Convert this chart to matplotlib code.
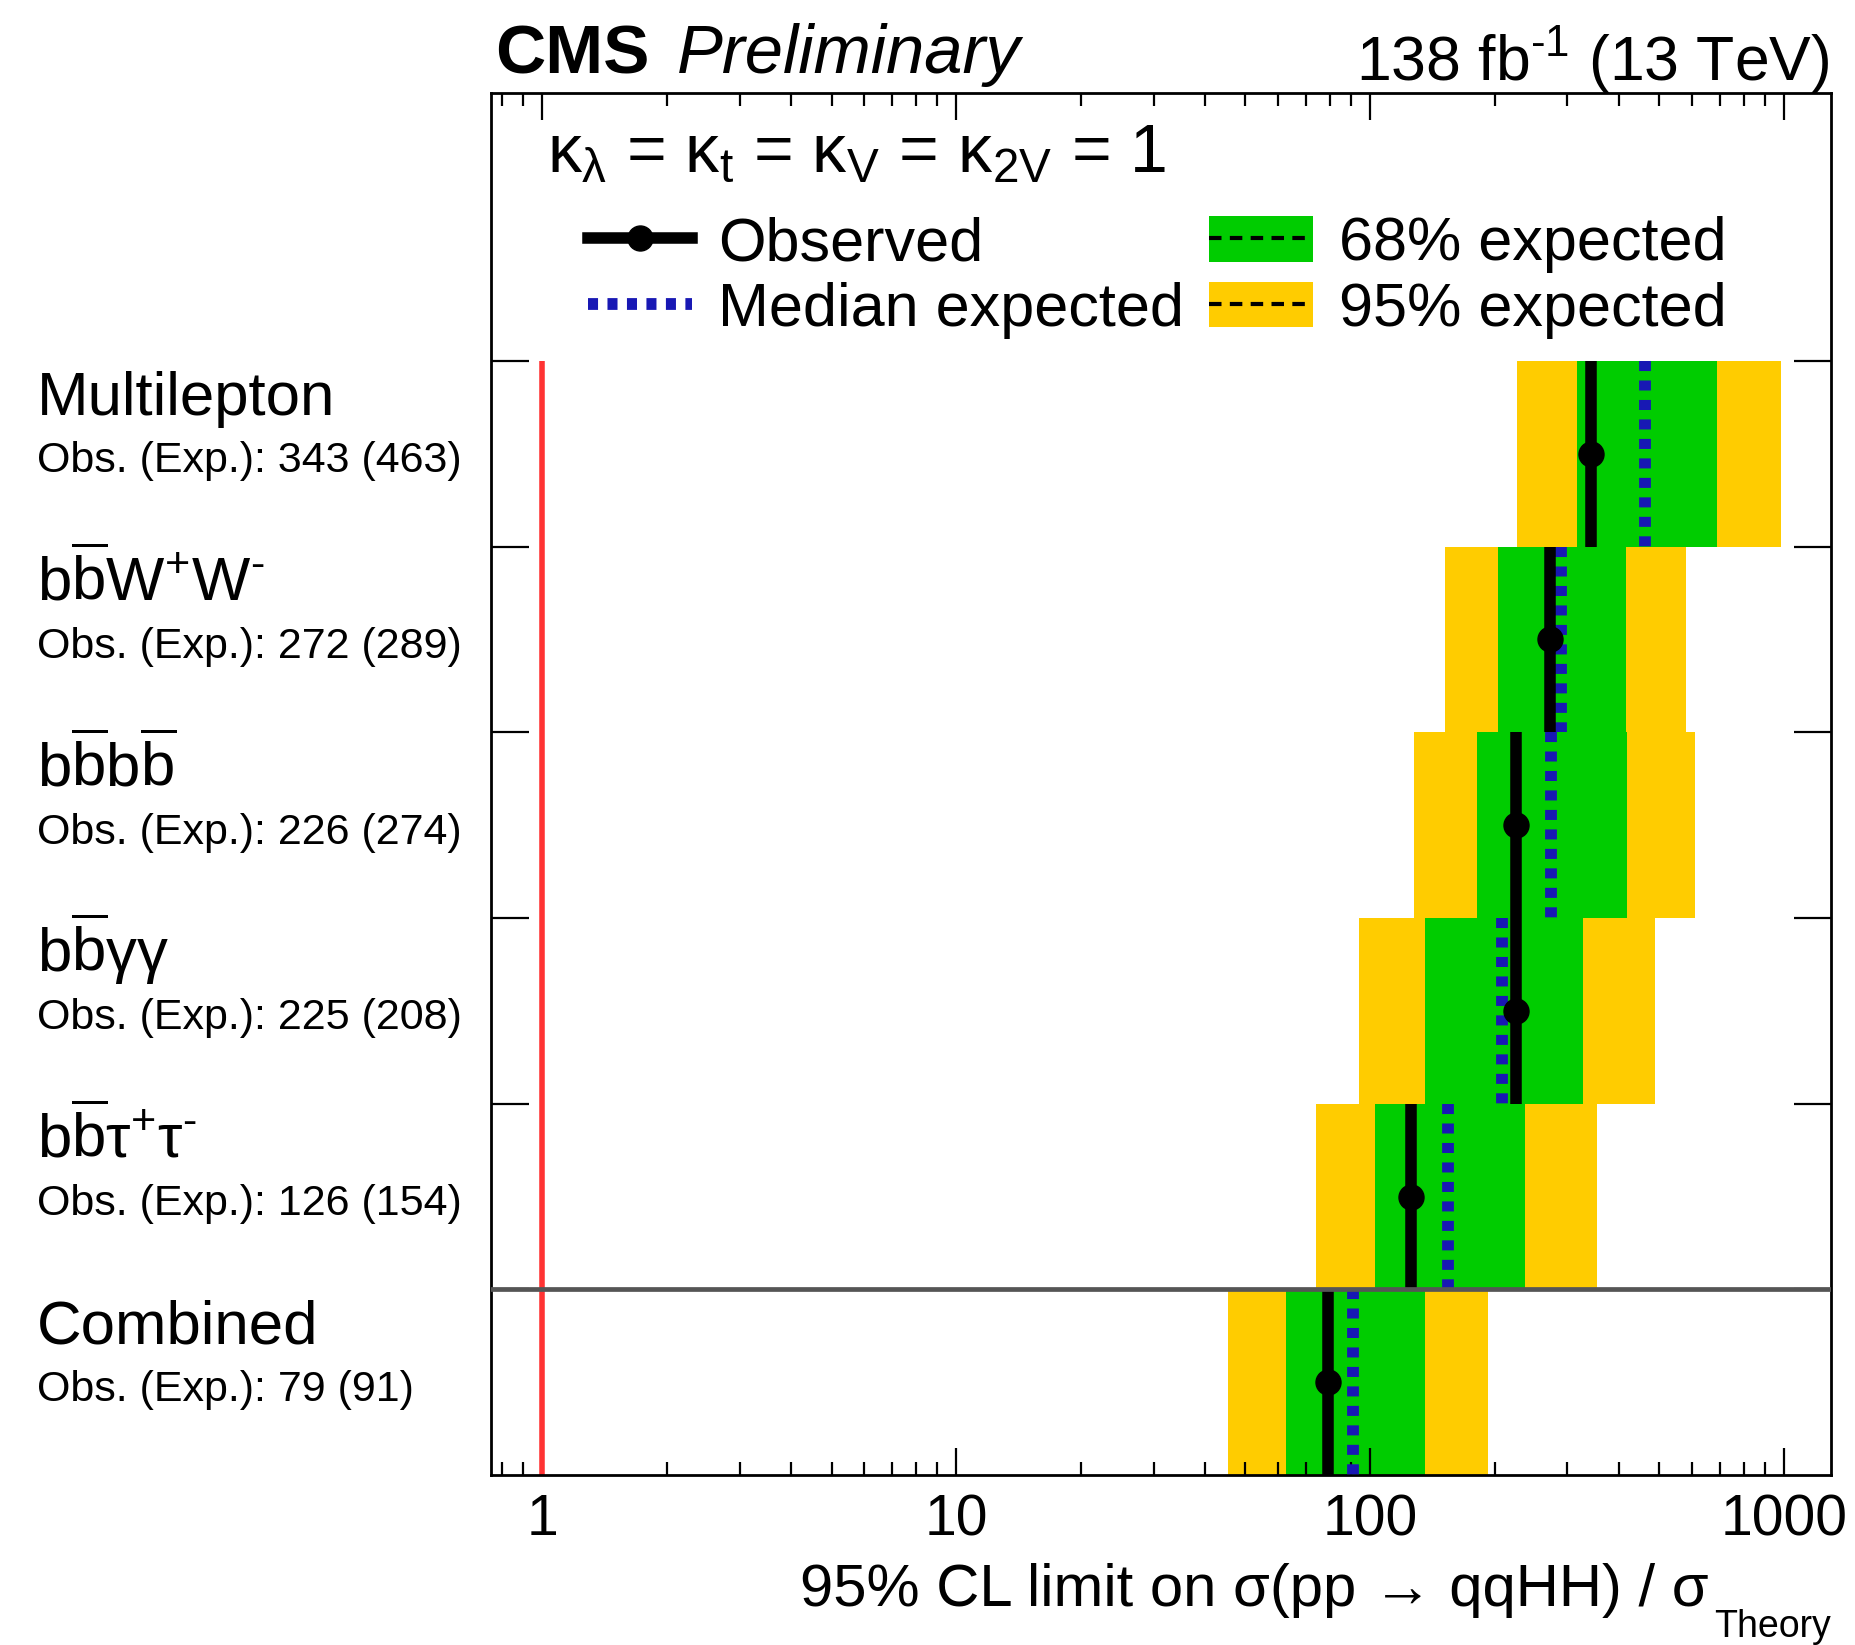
import numpy as np
import matplotlib
matplotlib.use('Agg')
from matplotlib import pyplot as plt
from matplotlib import transforms
from matplotlib.lines import Line2D
from matplotlib.patches import Patch
from matplotlib.ticker import NullFormatter

plt.rcParams['font.family'] = ['Liberation Sans', 'DejaVu Sans']
plt.rcParams['mathtext.fontset'] = 'custom'
plt.rcParams['mathtext.rm'] = 'Liberation Sans'
plt.rcParams['mathtext.it'] = 'Liberation Sans:italic'
plt.rcParams['mathtext.bf'] = 'Liberation Sans:bold'

# channels listed top to bottom
channels = ['Multilepton',
            r'$\mathrm{b\overline{b}W^{+}W^{\text{-}}}$',
            r'$\mathrm{b\overline{b}b\overline{b}}$',
            r'$\mathrm{b\overline{b}\gamma\gamma}$',
            r'$\mathrm{b\overline{b}\tau^{+}\tau^{\text{-}}}$',
            'Combined']
observed = [343, 272, 226, 225, 126, 79]
expected = [463, 289, 274, 208, 154, 91]
exp68_lo = [316, 204, 181, 136, 103, 62.6]
exp68_hi = [688, 416, 418, 328, 237, 136]
exp95_lo = [227, 152, 128, 94, 74, 45.5]
exp95_hi = [984, 581, 610, 488, 353, 193]
sm_value = 1
xticks = [1, 10, 100, 1000]
xticklabels = ['1', '10', '100', '1000']

green = '#00cc00'
yellow = '#ffcc00'
blue = '#1818b4'
red = '#ff3333'

n = len(channels)
rows = np.arange(n)[::-1]

fig = plt.figure(figsize=(18.56, 16.45), dpi=100)
ax = fig.add_axes([0.2643, 0.1033, 0.7222, 0.8399])
ax.set_xscale('log')
ax.set_xlim(0.75, 1300)
ax.set_ylim(0, n + 1.44)

for i, r in enumerate(rows):
    ax.barh(r + 0.5, exp95_hi[i] - exp95_lo[i], left=exp95_lo[i], height=1,
            color=yellow, lw=0, zorder=1)
    ax.barh(r + 0.5, exp68_hi[i] - exp68_lo[i], left=exp68_lo[i], height=1,
            color=green, lw=0, zorder=1.5)
    ax.plot([expected[i], expected[i]], [r + 1, r], color=blue, lw=8.5,
            dashes=(0.85, 0.8), zorder=3)
    ax.plot([observed[i], observed[i]], [r, r + 1], color='k', lw=8.3,
            solid_capstyle='butt', zorder=4)
    ax.plot(observed[i], r + 0.5, 'o', color='k', ms=18, zorder=5)

ax.vlines(sm_value, 0, n, color=red, lw=4, zorder=2)
ax.axhline(1, color='#555555', lw=3.4, zorder=6)

# axes / ticks
for sp in ax.spines.values():
    sp.set_linewidth(2)
ax.set_xticks(xticks)
ax.set_xticklabels(xticklabels)
ax.xaxis.set_minor_formatter(NullFormatter())
ax.tick_params(axis='x', which='major', direction='in', length=19.5, width=1.6,
               top=True, bottom=True, labelsize=41, pad=13)
ax.tick_params(axis='x', which='minor', direction='in', length=9.5, width=1.6,
               top=True, bottom=True)
ax.set_yticks(np.arange(1, n + 1))
ax.set_yticklabels([])
ax.tick_params(axis='y', which='major', direction='in', length=27, width=1.6,
               left=True, right=True)
ax.tick_params(axis='y', which='minor', left=False, right=False)

# channel labels on the left
trans = transforms.blended_transform_factory(fig.transFigure, ax.transData)
for i, r in enumerate(rows):
    ax.text(0.0200, r + 1 - 0.29, channels[i], transform=trans, fontsize=44.5,
            va='baseline', ha='left')
    ax.text(0.0200, r + 1 - 0.6, 'Obs. (Exp.): {} ({})'.format(observed[i], expected[i]),
            transform=trans, fontsize=31, va='baseline', ha='left')

# header
fig.text(495 / 1856, 1 - 73 / 1645, 'CMS', fontsize=50, fontweight='bold',
         va='baseline', ha='left')
fig.text(677 / 1856, 1 - 73 / 1645, 'Preliminary', fontsize=49.5, fontstyle='italic',
         va='baseline', ha='left')
fig.text(1829 / 1856, 1 - 80 / 1645, r'138 fb$^{\text{-}1}$ (13 TeV)', fontsize=45,
         va='baseline', ha='right')

# coupling text
fig.text(547 / 1856, 1 - 172 / 1645,
         r'$\mathrm{\kappa_{\lambda}}$ = $\mathrm{\kappa_{t}}$ = $\mathrm{\kappa_{V}}$ = $\mathrm{\kappa_{2V}}$ = 1',
         fontsize=49, va='baseline', ha='left')

# legend
h_obs = Line2D([], [], color='k', lw=8.3, marker='o', ms=18)
h_med = Line2D([], [], color=blue, lw=8.5, dashes=(0.85, 0.8))
h_68 = (Patch(fc=green, lw=0), Line2D([], [], color='k', lw=3, dashes=(3, 2)))
h_95 = (Patch(fc=yellow, lw=0), Line2D([], [], color='k', lw=3, dashes=(3, 2)))
fig.legend([h_obs, h_med, h_68, h_95],
           ['Observed', 'Median expected', '68% expected', '95% expected'],
           ncol=2, loc='upper left', bbox_to_anchor=(588 / 1856, 1 - 216 / 1645),
           frameon=False, fontsize=44, borderpad=0, borderaxespad=0,
           handlelength=1.7, handleheight=0.77, handletextpad=0.43,
           columnspacing=0.41, labelspacing=0.14)

# x axis title, with the low-hanging subscript as its own text
theory = fig.text(1831 / 1856, 1 - 1637 / 1645, 'Theory', fontsize=27,
                  va='baseline', ha='right')
fig.canvas.draw()
bb = theory.get_window_extent(fig.canvas.get_renderer())
fig.text((bb.x0 - 6) / fig.bbox.width, 1 - 1606 / 1645,
         '95% CL limit on \u03c3(pp \u2192 qqHH) / \u03c3',
         fontsize=43, va='baseline', ha='right')

fig.savefig('out.png', dpi=100)
